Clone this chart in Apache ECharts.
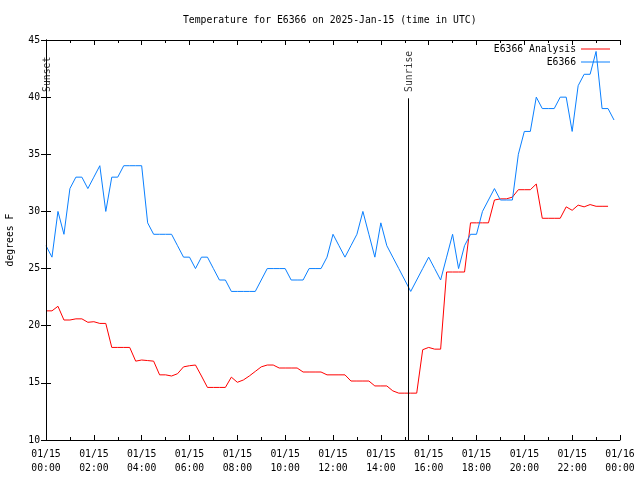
<!DOCTYPE html>
<html>
<head>
<meta charset="utf-8">
<script src="https://cdn.jsdelivr.net/npm/echarts@6/dist/echarts.min.js"></script>
<style>html,body{margin:0;padding:0;background:#fff}#c{width:640px;height:480px}</style>
</head>
<body>
<div id="c"></div>
<script>
// Time of each observation, hours after 2025-01-15 00:00 UTC
const hours = [
  0,0.25,0.5,0.75, 1,1.25,1.5,1.75, 2,2.25,2.5,2.75, 3,3.25,3.5,3.75,
  4,4.25,4.5,4.75, 5,5.25,5.5,5.75, 6,6.25,6.5,6.75, 7,7.25,7.5,7.75,
  8,8.25,8.5,8.75, 9,9.25,9.5,9.75, 10,10.25,10.5,10.75, 11,11.25,11.5,11.75,
  12,12.25,12.5,12.75, 13,13.25,13.5,13.75, 14,14.25,14.5,14.75, 15,15.25,15.5,15.75,
  16,16.25,16.5,16.75, 17,17.25,17.5,17.75, 18,18.25,18.5,18.75, 19,19.25,19.5,19.75,
  20,20.25,20.5,20.75, 21,21.25,21.5,21.75, 22,22.25,22.5,22.75, 23,23.25,23.5,23.75
];
// E6366 Analysis (red)
const analysis = [
  21.3,21.3,21.7,20.5, 20.5,20.6,20.6,20.3, 20.35,20.2,20.2,18.1, 18.1,18.1,18.1,16.9,
  17.0,16.95,16.9,15.7, 15.7,15.6,15.8,16.4, 16.5,16.56,15.6,14.6, 14.6,14.6,14.6,15.5,
  15.05,15.25,15.6,16.0, 16.4,16.56,16.56,16.3, 16.3,16.3,16.3,15.95, 15.95,15.95,15.95,15.7,
  15.7,15.7,15.7,15.16, 15.16,15.16,15.16,14.73, 14.73,14.73,14.3,14.1, 14.1,14.1,14.1,17.9,
  18.1,17.95,17.95,24.7, 24.7,24.7,24.7,29.0, 29.0,29.0,29.0,31.0, 31.1,31.1,31.25,31.9,
  31.9,31.9,32.4,29.4, 29.4,29.4,29.4,30.4, 30.1,30.55,30.4,30.6, 30.45,30.45,30.45
];
// E6366 observed (blue)
const observed = [
  27,26,30,28, 32,33,33,32, 33,34,30,33, 33,34,34,34,
  34,29,28,28, 28,28,27,26, 26,25,26,26, 25,24,24,23,
  23,23,23,23, 24,25,25,25, 25,24,24,24, 25,25,25,26,
  28,27,26,27, 28,30,28,26, 29,27,26,25, 24,23,24,25,
  26,25,24,26, 28,25,27,28, 28,30,31,32, 31,31,31,35,
  37,37,40,39, 39,39,40,40, 37,41,42,42, 44,39,39,38
];
const xTickLabels = [
  "01/15\n00:00","01/15\n02:00","01/15\n04:00","01/15\n06:00","01/15\n08:00",
  "01/15\n10:00","01/15\n12:00","01/15\n14:00","01/15\n16:00","01/15\n18:00",
  "01/15\n20:00","01/15\n22:00","01/16\n00:00"
];
const eventNames = ["Sunset", "Sunrise"];
const eventHours = [0, 15.13];
const eventLineTop = 39.9;
const eventLabelBase = 40.45;

const FONT = "'DejaVu Sans Mono', 'Liberation Mono', monospace";
const FS = 9.75;

const chart = echarts.init(document.getElementById('c'), null, {renderer: 'canvas'});

const xCommon = {
  type: 'value', min: 0, max: 24, interval: 2,
  axisLine: {show: true, lineStyle: {color: '#000', width: 1}},
  axisTick: {show: true, inside: true, length: 5, lineStyle: {color: '#000'}},
  minorTick: {show: true, splitNumber: 2, length: 3, lineStyle: {color: '#000'}},
  splitLine: {show: false}
};
const yCommon = {
  type: 'value', min: 10, max: 45, interval: 5,
  axisLine: {show: true, lineStyle: {color: '#000', width: 1}},
  axisTick: {show: true, inside: true, length: 5, lineStyle: {color: '#000'}},
  splitLine: {show: false}
};
const legendCommon = {
  orient: 'vertical', right: 30, padding: 0, align: 'right',
  icon: 'rect', itemWidth: 29, itemHeight: 1,
  textStyle: {fontFamily: FONT, fontSize: FS, color: '#000'}
};

chart.setOption({
  animation: false,
  backgroundColor: '#fff',
  title: {
    text: 'Temperature for E6366 on 2025-Jan-15 (time in UTC)',
    left: 183, top: 15, padding: 0,
    textStyle: {fontFamily: FONT, fontSize: FS, fontWeight: 'normal', color: '#000'}
  },
  legend: [
    Object.assign({}, legendCommon, {data: ['E6366 Analysis'], top: 44}),
    Object.assign({}, legendCommon, {data: ['E6366'], top: 57})
  ],
  grid: {left: 46, right: 20, top: 40, bottom: 40, containLabel: false, outerBoundsMode: 'none'},
  xAxis: [
    Object.assign({}, xCommon, {
      position: 'bottom',
      axisLabel: {
        show: true, margin: 7, color: '#000', fontFamily: FONT, fontSize: FS, lineHeight: 14,
        formatter: v => xTickLabels[Math.round(v / 2)]
      }
    }),
    Object.assign({}, xCommon, {position: 'top', axisLabel: {show: false}})
  ],
  yAxis: [
    Object.assign({}, yCommon, {
      position: 'left',
      name: 'degrees F', nameLocation: 'middle', nameRotate: 90, nameGap: 31,
      nameTextStyle: {fontFamily: FONT, fontSize: FS, color: '#000'},
      axisLabel: {show: true, margin: 6, color: '#000', fontFamily: FONT, fontSize: FS}
    }),
    Object.assign({}, yCommon, {position: 'right', axisLabel: {show: false}})
  ],
  series: [
    {
      name: 'E6366 Analysis', type: 'line', xAxisIndex: 0, yAxisIndex: 0,
      data: analysis.map((v, i) => [hours[i], v]),
      symbol: 'none', lineStyle: {color: '#ff0000', width: 1}, itemStyle: {color: '#ff0000'},
      z: 3,
      markLine: {
        silent: true, symbol: 'none', animation: false,
        lineStyle: {color: '#000', width: 1, type: 'solid'},
        label: {show: false},
        data: eventHours.map(h => [{coord: [h, 10]}, {coord: [h, eventLineTop]}])
      }
    },
    {
      name: 'E6366', type: 'line', xAxisIndex: 0, yAxisIndex: 0,
      data: observed.map((v, i) => [hours[i], v]),
      symbol: 'none', lineStyle: {color: '#0a80ff', width: 1}, itemStyle: {color: '#0a80ff'},
      z: 4
    },
    {
      name: 'events', type: 'scatter', xAxisIndex: 0, yAxisIndex: 0,
      data: eventHours.map((h, i) => [h, eventLabelBase, eventNames[i]]),
      symbolSize: 0.1, itemStyle: {color: 'rgba(0,0,0,0)'}, silent: true,
      label: {
        show: true, position: [0, 0], offset: [0, 2], rotate: 90, align: 'left', verticalAlign: 'middle',
        formatter: p => p.data[2], color: '#000', fontFamily: FONT, fontSize: FS
      }
    }
  ]
});
</script>
</body>
</html>
